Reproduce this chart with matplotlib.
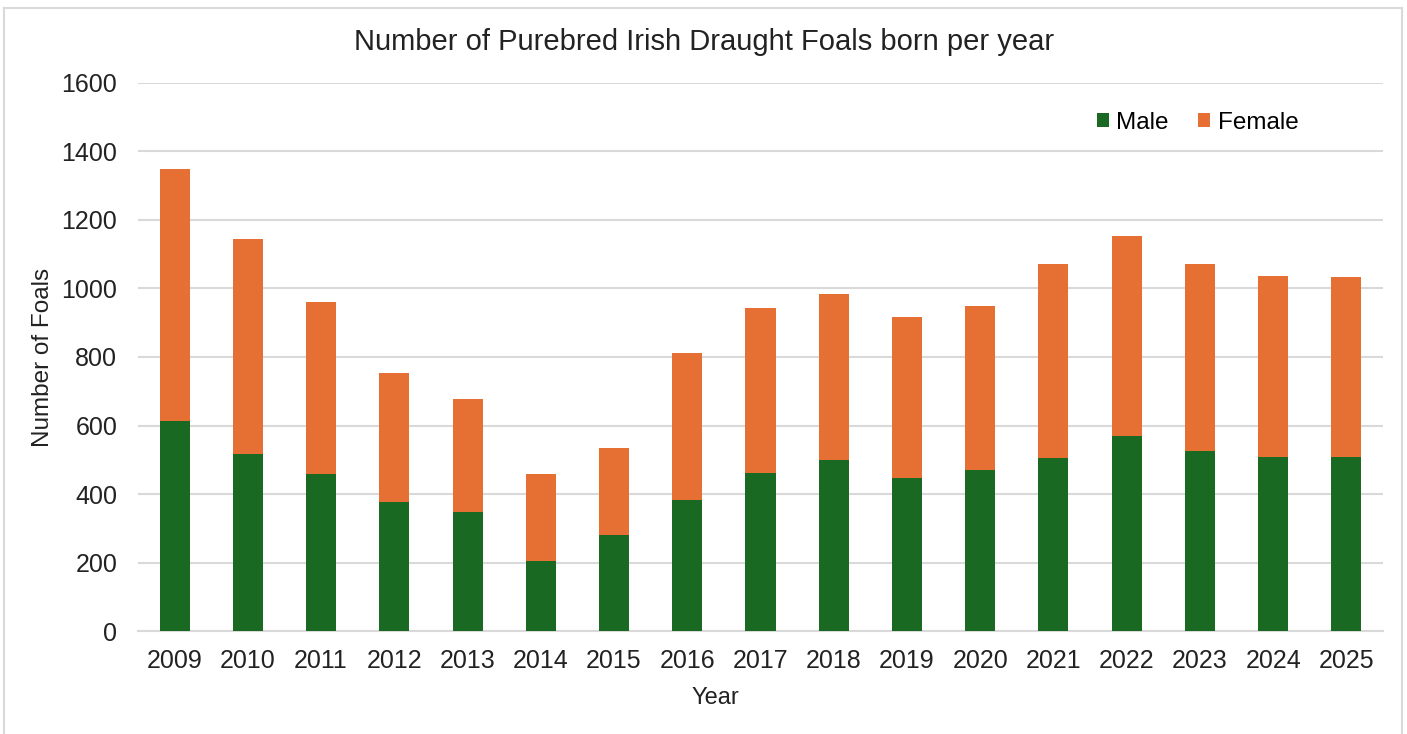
import matplotlib
matplotlib.use("Agg")
import matplotlib.pyplot as plt
from matplotlib.lines import Line2D
import numpy as np

years = ["2009", "2010", "2011", "2012", "2013", "2014", "2015", "2016", "2017",
         "2018", "2019", "2020", "2021", "2022", "2023", "2024", "2025"]
male = [614, 516, 459, 377, 349, 204, 281, 384, 461, 500, 446, 471, 506, 569, 526, 508, 508]
total = [1347, 1144, 961, 752, 678, 458, 535, 812, 942, 985, 918, 950, 1071, 1154, 1071, 1037, 1034]
female = [t - m for t, m in zip(total, male)]

plt.rcParams['font.family'] = ['Liberation Sans', 'DejaVu Sans']

GREEN = "#1a6922"
ORANGE = "#e67034"
TXT = "#222222"
W, H = 1407, 734

fig = plt.figure(figsize=(W / 100, H / 100), dpi=100)
ax = fig.add_axes([138 / W, 1 - 631.3 / H, (1383 - 138) / W, (631.3 - 82.7) / H])

x = np.arange(len(years))
ax.bar(x, male, width=0.41, color=GREEN, label="Male", zorder=3)
ax.bar(x, female, bottom=male, width=0.41, color=ORANGE, label="Female", zorder=3)

ax.set_xlim(-0.5, len(years) - 0.5)
ax.set_ylim(0, 1600)
ax.set_yticks(np.arange(0, 1601, 200))
ax.set_xticks(x)
ax.set_xticklabels(years)
ax.yaxis.grid(True, color="#d9d9d9", linewidth=1.5, zorder=0)
ax.set_axisbelow(True)
for s in ["top", "right", "left"]:
    ax.spines[s].set_visible(False)
ax.spines["bottom"].set_color("#d9d9d9")
ax.spines["bottom"].set_linewidth(1.5)
ax.tick_params(axis="both", length=0, labelsize=18, colors=TXT)
ax.tick_params(axis="x", pad=13)
ax.tick_params(axis="y", pad=15)

fig.text(715 / W, 1 - 698 / H, "Year", ha="center", va="center", fontsize=17, color=TXT)
fig.text(43 / W, 1 - 357.5 / H, "Number of Foals", ha="center", va="center",
         rotation=90, fontsize=17.5, color=TXT)
fig.text(704 / W, 1 - 42 / H, "Number of Purebred Irish Draught Foals born per year",
         ha="center", va="center", fontsize=21, color=TXT)

leg = ax.legend(loc="center left", bbox_to_anchor=(1097 / W, 1 - 123 / H),
                bbox_transform=fig.transFigure, ncol=2, frameon=False,
                fontsize=17.5, handlelength=0.5, handleheight=0.5, handletextpad=0.3,
                columnspacing=1.2, borderpad=0, borderaxespad=0)

border = dict(color="#d9d9d9", linewidth=1.5, transform=fig.transFigure)
fig.add_artist(Line2D([4 / W, 4 / W], [0, 1 - 8 / H], **border))
fig.add_artist(Line2D([1402 / W, 1402 / W], [0, 1 - 8 / H], **border))
fig.add_artist(Line2D([4 / W, 1402 / W], [1 - 8 / H, 1 - 8 / H], **border))

fig.savefig("out.png", dpi=100)
